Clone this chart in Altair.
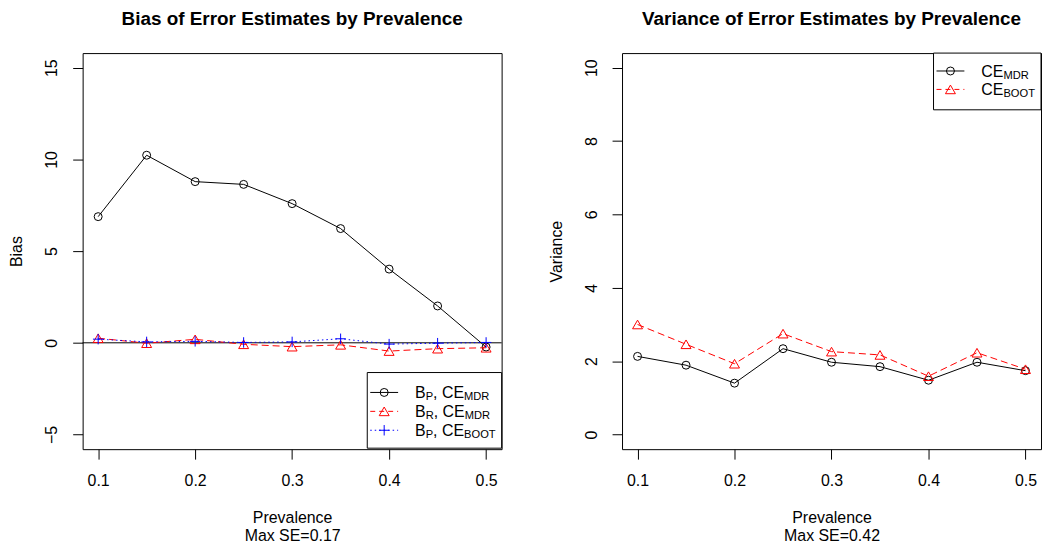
import altair as alt
import pandas as pd

# ---------------- data ----------------
prevalence = [0.10, 0.15, 0.20, 0.25, 0.30, 0.35, 0.40, 0.45, 0.50]
bias_bp_mdr = [6.88, 10.23, 8.79, 8.64, 7.59, 6.23, 4.02, 2.01, -0.23]
bias_br_mdr = [0.25, -0.02, 0.19, -0.08, -0.21, -0.11, -0.45, -0.32, -0.27]
bias_bp_boot = [0.20, 0.05, 0.08, 0.02, 0.05, 0.22, -0.07, -0.02, 0.02]
var_mdr = [2.13, 1.89, 1.40, 2.34, 1.97, 1.85, 1.48, 1.97, 1.74]
var_boot = [3.00, 2.46, 1.93, 2.75, 2.26, 2.17, 1.59, 2.23, 1.78]

x_ticks = [0.1, 0.2, 0.3, 0.4, 0.5]
bias_ticks = [-5, 0, 5, 10, 15]
var_ticks = [0, 2, 4, 6, 8, 10]

bias_legend = [
    [("B", 0), ("P", 1), (", CE", 0), ("MDR", 1)],
    [("B", 0), ("R", 1), (", CE", 0), ("MDR", 1)],
    [("B", 0), ("P", 1), (", CE", 0), ("BOOT", 1)],
]
var_legend = [
    [("CE", 0), ("MDR", 1)],
    [("CE", 0), ("BOOT", 1)],
]

# ---------------- styling ----------------
FONT = "Liberation Sans"
W, H = 421, 398
FS = 16
SUB = 11.2
PLUS = "M-1,0L1,0M0,-1L0,1"
STYLES = [
    dict(color="black", shape="circle", size=64),
    dict(color="#FF0000", shape="triangle-up", size=100, dash=[7, 4]),
    dict(color="#0000FF", shape=PLUS, size=110, dash=[1.5, 3]),
]
WIDTHS = {"B": 667, "P": 667, "R": 722, "C": 722, "E": 667, "M": 833, "D": 722,
          "O": 778, "T": 611, ",": 278, " ": 278}


def text_width(s, fs):
    return sum(WIDTHS.get(ch, 556) for ch in s) * fs / 1000.0


one = pd.DataFrame({"k": [0]})


def x_enc(title):
    return alt.X(
        "prev:Q",
        scale=alt.Scale(domain=[0.084, 0.516], nice=False, zero=False),
        axis=alt.Axis(
            values=x_ticks, format=".1f", grid=False, domain=False,
            tickSize=10, tickColor="black", tickWidth=1,
            labelFont=FONT, labelFontSize=FS, labelColor="black",
            labelPadding=14, labelFlush=False, labelOverlap=False,
            title=title, titleFont=FONT, titleFontSize=FS, titleFontWeight="normal",
            titleColor="black", titleX=W / 2, titleY=61, titleAlign="center",
            titleBaseline="top", titleLineHeight=18,
        ),
    )


def y_enc(title, domain, ticks):
    return alt.Y(
        "val:Q",
        scale=alt.Scale(domain=domain, nice=False, zero=False),
        axis=alt.Axis(
            values=ticks, format="d", grid=False, domain=False,
            tickSize=10, tickColor="black", tickWidth=1,
            labelFont=FONT, labelFontSize=FS, labelColor="black",
            labelAngle=270, labelAlign="center", labelBaseline="bottom",
            labelPadding=13, labelFlush=False, labelOverlap=False,
            title=title, titleFont=FONT, titleFontSize=FS, titleFontWeight="normal",
            titleColor="black", titleAngle=270, titleX=-58, titleY=H / 2,
            titleAlign="center", titleBaseline="bottom",
        ),
    )


def series(values, style, xe, ye):
    df = pd.DataFrame({"prev": prevalence, "val": values})
    lk = dict(color=style["color"], strokeWidth=1)
    if "dash" in style:
        lk["strokeDash"] = style["dash"]
    line = alt.Chart(df).mark_line(**lk).encode(x=xe, y=ye)
    pts = alt.Chart(df).mark_point(
        shape=style["shape"], filled=False, color=style["color"],
        size=style["size"], strokeWidth=1, opacity=1,
    ).encode(x=xe, y=ye)
    return [line, pts]


def legend(box, rows, styles):
    x0, x1, y0, y1, first, step = box
    layers = [
        alt.Chart(one).mark_rect(fill="white", stroke="black", strokeWidth=1).encode(
            x=alt.value(x0), x2=alt.value(x1), y=alt.value(y0), y2=alt.value(y1))
    ]
    for i, (pieces, st) in enumerate(zip(rows, styles)):
        ry = first + i * step
        rk = dict(color=st["color"], strokeWidth=1)
        if "dash" in st:
            rk["strokeDash"] = [5, 4] if st["shape"] == "triangle-up" else st["dash"]
        layers.append(alt.Chart(one).mark_rule(**rk).encode(
            x=alt.value(x0 + 3), x2=alt.value(x0 + 31), y=alt.value(ry)))
        layers.append(alt.Chart(one).mark_point(
            shape=st["shape"], filled=False, color=st["color"], size=st["size"],
            strokeWidth=1, opacity=1).encode(x=alt.value(x0 + 17), y=alt.value(ry)))
        px = x0 + 48
        for txt, is_sub in pieces:
            fs = SUB if is_sub else FS
            py = ry + 5.7 + (2 if is_sub else 0)
            layers.append(alt.Chart(one).mark_text(
                text=txt, font=FONT, fontSize=fs, color="black",
                align="left", baseline="alphabetic").encode(
                x=alt.value(px), y=alt.value(py)))
            px += text_width(txt, fs)
    return layers


def title(t):
    return alt.TitleParams(text=t, font=FONT, fontSize=19, fontWeight="bold",
                           color="black", anchor="middle", frame="group",
                           offset=9, baseline="alphabetic")


# ---------------- left panel ----------------
xl = x_enc(["Prevalence", "Max SE=0.17"])
yl = y_enc("Bias", [-5.8, 15.8], bias_ticks)
zero = alt.Chart(pd.DataFrame({"val": [0]})).mark_rule(color="black", strokeWidth=1).encode(y=yl)
left_layers = [zero]
for vals, st in zip([bias_bp_mdr, bias_br_mdr, bias_bp_boot], STYLES):
    left_layers += series(vals, st, xl, yl)
left_layers += legend((286, 421, 321, 397, 341, 19), bias_legend, STYLES)
left = alt.layer(*left_layers).properties(width=W, height=H, title=title("Bias of Error Estimates by Prevalence"))

# ---------------- right panel ----------------
xr = x_enc(["Prevalence", "Max SE=0.42"])
yr = y_enc("Variance", [-0.4, 10.4], var_ticks)
right_layers = []
for vals, st in zip([var_mdr, var_boot], STYLES[:2]):
    right_layers += series(vals, st, xr, yr)
right_layers += legend((313, 421, 0, 57, 18, 18.5), var_legend, STYLES[:2])
right = alt.layer(*right_layers).properties(width=W, height=H, title=title("Variance of Error Estimates by Prevalence"))

chart = (
    alt.hconcat(left, right, spacing=45)
    .properties(padding={"left": 0, "top": 0, "right": 0, "bottom": 0}, background="white")
    .configure_view(stroke="black", strokeWidth=1)
)

chart.save("out.html", embed_options={"renderer": "svg", "actions": False})
